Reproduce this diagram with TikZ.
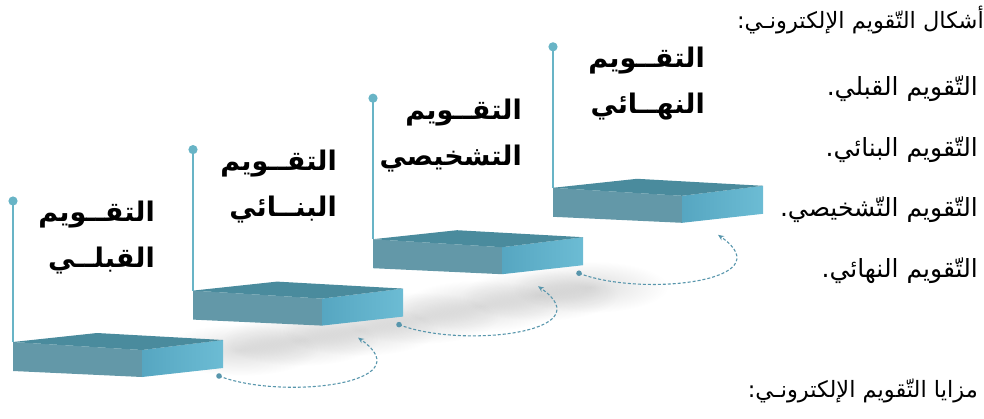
\documentclass[tikz,border=0pt]{standalone}
\usepackage{fontspec}
\newfontfamily\arabicfont[Script=Arabic]{DejaVu Sans}
\TeXXeTstate=1
\usetikzlibrary{arrows.meta,fadings}

\definecolor{stepTop}{RGB}{74,139,157}
\definecolor{stepLeft}{RGB}{99,152,168}
\definecolor{stepRightA}{RGB}{86,166,193}
\definecolor{stepRightB}{RGB}{108,188,212}
\definecolor{stemCol}{RGB}{104,180,198}
\definecolor{loopCol}{RGB}{88,150,172}

\tikzfading[name=softedge, inner color=transparent!0, outer color=transparent!100]

% one stair block with its stem, dot and two-line label
% #1 name, #2 x shift, #3 y shift, #4 label right edge (local), #5 second word
\newcommand{\stairstep}[5]{%
  \begin{scope}[shift={(#2,#3)}]
    \coordinate (#1-L)  at (13,342);
    \coordinate (#1-B)  at (97,333);
    \coordinate (#1-R)  at (223,340);
    \coordinate (#1-F)  at (142,350);
    \coordinate (#1-Lb) at (13,371);
    \coordinate (#1-Fb) at (142,377);
    \coordinate (#1-Rb) at (223,368);
    \coordinate (#1-out) at (219,376);
    \coordinate (#1-in)  at (178,389);
    \coordinate (#1-dot) at (13,201);
    \fill[stepLeft] (#1-L) -- (#1-F) -- (#1-Fb) -- (#1-Lb) -- cycle;
    \shade[left color=stepRightA, right color=stepRightB]
      (#1-F) -- (#1-R) -- (#1-Rb) -- (#1-Fb) -- cycle;
    \fill[stepTop] (#1-L) -- (#1-B) -- (#1-R) -- (#1-F) -- cycle;
    \draw[stem] (#1-dot) -- (#1-L);
    \fill[stemCol] (#1-dot) circle (4.6);
    \node[steplabel] (#1-w1) at (#4,215) {\beginR التقــويم\endR};
    \node[steplabel] (#1-w2) at (#4,261) {\beginR #5\endR};
  \end{scope}}

\begin{document}
\begin{tikzpicture}[x=1pt,y=-1pt,
  stem/.style={stemCol, line width=2pt},
  steplabel/.style={anchor=east, inner sep=0pt, font=\arabicfont\bfseries\fontsize{27}{30}\selectfont},
  listtext/.style={anchor=east, inner sep=0pt, font=\arabicfont\fontsize{25}{28}\selectfont},
  headtext/.style={anchor=east, inner sep=0pt, font=\arabicfont\fontsize{22.5}{26}\selectfont},
  looparrow/.style={loopCol, line width=1.1pt, dash pattern=on 3pt off 2pt,
    -{Stealth[length=6pt,width=5pt]}},
  shadowblob/.style={fill=black, fill opacity=0.13, path fading=softedge}]
\useasboundingbox (0,0) rectangle (984,418);

% soft floor shadow under the stairs
\foreach \cx/\cy in {240/350,300/340,360/330,420/318,480/306,540/295,590/287}
  \fill[shadowblob] (\cx,\cy) ellipse [x radius=78, y radius=26];

% stairs
\stairstep{s1}{0}{0}{155}{القبلــي}
\stairstep{s2}{180}{-51.4}{157}{البنــائي}
\stairstep{s3}{360}{-102.8}{162}{التشخيصي}
\stairstep{s4}{540}{-154.2}{165}{النهــائي}

% dashed loops from one step to the next
\foreach \a/\b in {s1/s2,s2/s3,s3/s4}{
  \fill[loopCol] (\a-out) circle (2.8);
  \draw[looparrow] (\a-out) .. controls +(61,24) and +(67,47) .. (\b-in);
}

% list on the right
\node[headtext] (head1) at (984,20) {\beginR أشكال التّقويم الإلكترونـي:\endR};
\node[listtext] (item1) at (978,89)  {\beginR التّقويم القبلي.\endR};
\node[listtext] (item2) at (978,150) {\beginR التّقويم البنائي.\endR};
\node[listtext] (item3) at (978,210) {\beginR التّقويم التّشخيصي.\endR};
\node[listtext] (item4) at (978,271) {\beginR التّقويم النهائي.\endR};
\node[headtext] (head2) at (978,391) {\beginR مزايا التّقويم الإلكترونـي:\endR};
\end{tikzpicture}
\end{document}
